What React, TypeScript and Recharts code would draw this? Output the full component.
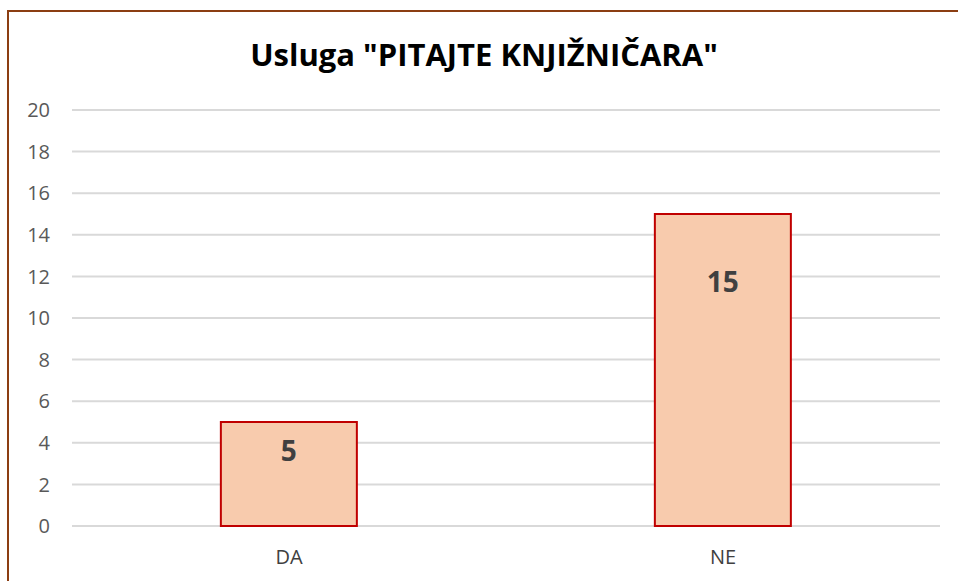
import { Bar, BarChart, CartesianGrid, LabelList, XAxis, YAxis } from "recharts";

const CATEGORIES = ["DA", "NE"];
const VALUES = [5, 15];
const Y_TICKS = [0, 2, 4, 6, 8, 10, 12, 14, 16, 18, 20];
const TITLE = 'Usluga "PITAJTE KNJIŽNIČARA"';

// pomak oznake od vrha stupca (kao u izvorniku)
const LABEL_OFFSETS = [28, 67];

const FONT = "'Open Sans', 'Noto Sans', sans-serif";

const data = CATEGORIES.map((name, i) => ({ name, value: VALUES[i] }));

function ValueLabel(props: any) {
  const { x, y, width, value, index } = props;
  const cx = Number(x) + Number(width) / 2;
  const cy = Number(y) + (LABEL_OFFSETS[index] ?? 30);
  return (
    <text
      x={cx}
      y={cy}
      textAnchor="middle"
      dominantBaseline="central"
      fontFamily={FONT}
      fontSize={28}
      fontWeight={700}
      fill="#404040"
    >
      {value}
    </text>
  );
}

export default function App() {
  return (
    <div style={{ position: "absolute", left: 0, top: 0, width: 958, height: 581, overflow: "hidden", background: "#fff" }}>
      <div
        style={{
          position: "absolute",
          left: 7,
          top: 10,
          width: 1000,
          height: 600,
          borderLeft: "2px solid #8B3E12",
          borderTop: "2px solid #8B3E12",
        }}
      />
      <div
        style={{
          position: "absolute",
          left: 84,
          width: 800,
          top: 34,
          textAlign: "center",
          fontFamily: FONT,
          fontSize: 31,
          fontWeight: 700,
          color: "#000",
          lineHeight: "40px",
        }}
      >
        {TITLE}
      </div>
      <div style={{ position: "absolute", left: 0, top: 0 }}>
        <BarChart
          width={958}
          height={581}
          data={data}
          margin={{ top: 110, right: 18, bottom: 0, left: 22 }}
          barCategoryGap="34.3%"
        >
          <CartesianGrid vertical={false} stroke="#D9D9D9" strokeWidth={2} />
          <XAxis
            dataKey="name"
            axisLine={false}
            tickLine={false}
            tickSize={0}
            tickMargin={24}
            height={55}
            tick={{ fontFamily: FONT, fontSize: 20, fill: "#404040" }}
          />
          <YAxis
            domain={[0, 20]}
            ticks={Y_TICKS}
            interval={0}
            axisLine={false}
            tickLine={false}
            tickSize={0}
            tickMargin={22}
            width={50}
            tick={{ fontFamily: FONT, fontSize: 20, fill: "#595959" }}
          />
          <Bar dataKey="value" fill="#F8CBAD" stroke="#C00000" strokeWidth={2} isAnimationActive={false}>
            <LabelList dataKey="value" content={<ValueLabel />} />
          </Bar>
        </BarChart>
      </div>
    </div>
  );
}
